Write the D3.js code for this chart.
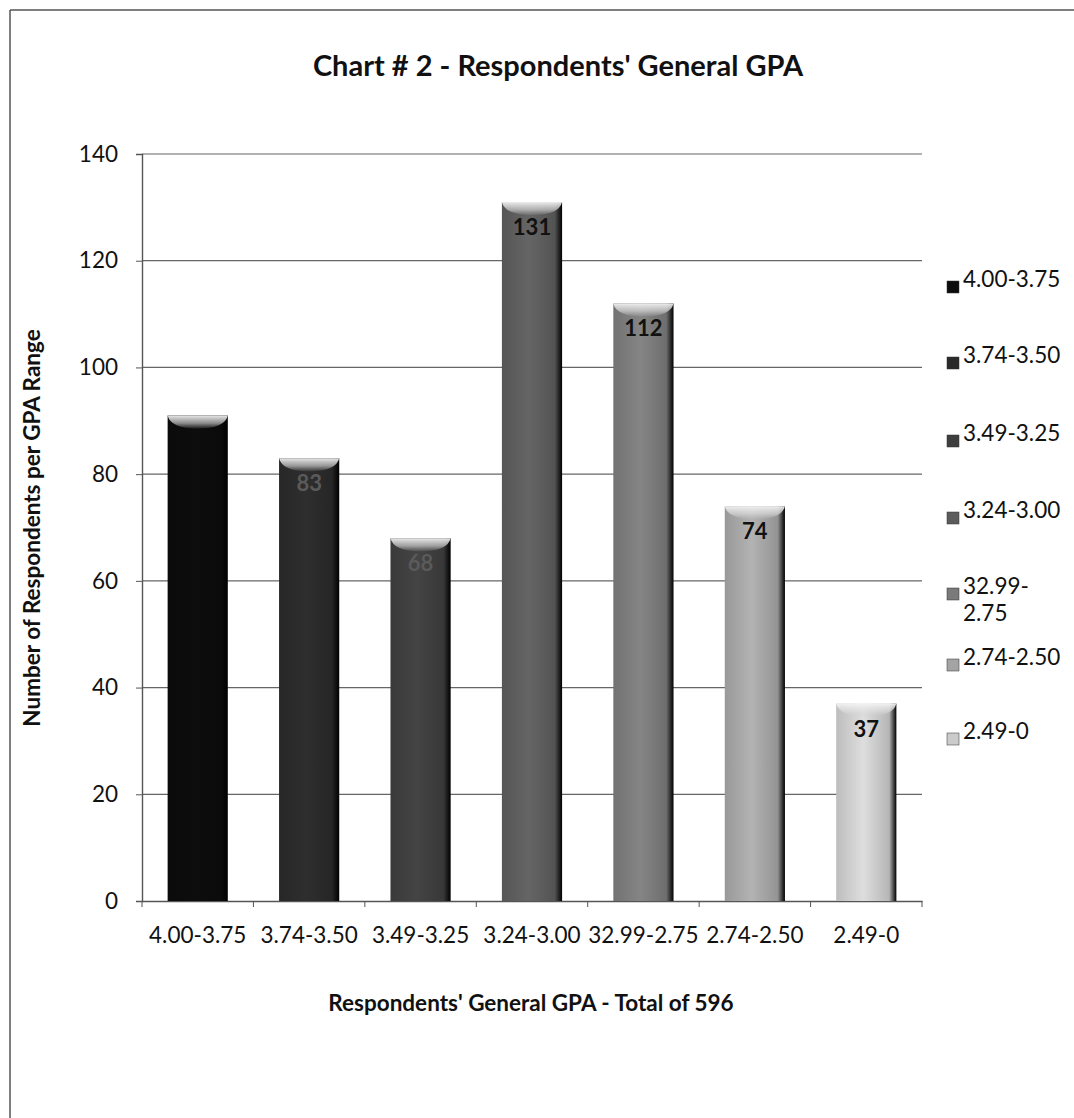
<!DOCTYPE html>
<html>
<head>
<meta charset="utf-8">
<script src="https://cdn.jsdelivr.net/npm/d3@7"></script>
<style>
  body { margin: 0; background: #fff; }
  svg { display: block; font-family: Lato, "Open Sans", sans-serif; }
  .axis path, .axis line { stroke: #555; }
  .axis text { font-size: 22.5px; fill: #111; font-family: Lato, "Open Sans", sans-serif; }
</style>
</head>
<body>
<div id="chart"></div>
<script>
// data
const categories = ['4.00-3.75', '3.74-3.50', '3.49-3.25', '3.24-3.00', '32.99-2.75', '2.74-2.50', '2.49-0'];
const counts = [91, 83, 68, 131, 112, 74, 37];
const legendLabels = [['4.00-3.75'], ['3.74-3.50'], ['3.49-3.25'], ['3.24-3.00'], ['32.99-', '2.75'], ['2.74-2.50'], ['2.49-0']];
const yTicks = [0, 20, 40, 60, 80, 100, 120, 140];
const barColors = ['#0c0c0c', '#2a2a2a', '#3e3e3e', '#5c5c5c', '#7a7a7a', '#a4a4a4', '#cbcbcb'];
const showLabel = [false, true, true, true, true, true, true];

const W = 1074, H = 1118;
const margin = { top: 154, left: 142, right: 152, bottom: 217 };
const width = W - margin.left - margin.right;   // 780
const height = H - margin.top - margin.bottom;  // 747

const svg = d3.select('#chart').append('svg').attr('width', W).attr('height', H);

// outer frame (only top and left visible in the reference)
svg.append('line').attr('x1', 10).attr('y1', 10).attr('x2', W).attr('y2', 10).attr('stroke', '#555').attr('stroke-width', 1.5);
svg.append('line').attr('x1', 10).attr('y1', 10).attr('x2', 10).attr('y2', H).attr('stroke', '#555').attr('stroke-width', 1.5);

const defs = svg.append('defs');
barColors.forEach((c, i) => {
  const base = d3.color(c);
  const g = defs.append('linearGradient').attr('id', 'bar' + i).attr('x1', 0).attr('x2', 1).attr('y1', 0).attr('y2', 0);
  g.append('stop').attr('offset', '0%').attr('stop-color', base.darker(0.2));
  g.append('stop').attr('offset', '45%').attr('stop-color', base.brighter(0.25));
  g.append('stop').attr('offset', '88%').attr('stop-color', base.darker(0.3));
  g.append('stop').attr('offset', '100%').attr('stop-color', '#000');
});
const cap = defs.append('linearGradient').attr('id', 'cap').attr('x1', 0).attr('x2', 0).attr('y1', 0).attr('y2', 1);
cap.append('stop').attr('offset', '0%').attr('stop-color', '#f4f4f4').attr('stop-opacity', 0.95);
cap.append('stop').attr('offset', '60%').attr('stop-color', '#e0e0e0').attr('stop-opacity', 0.6);
cap.append('stop').attr('offset', '100%').attr('stop-color', '#cccccc').attr('stop-opacity', 0.1);

const chartWrapper = svg.append('g').attr('transform', 'translate(' + margin.left + ',' + margin.top + ')');

const x = d3.scaleBand().domain(categories).range([0, width]).paddingInner(0.46).paddingOuter(0.23);
const y = d3.scaleLinear().domain([0, 140]).range([height, 0]);

// gridlines
chartWrapper.selectAll('line.grid').data(yTicks.slice(1)).enter().append('line')
  .attr('class', 'grid')
  .attr('x1', 0).attr('x2', width)
  .attr('y1', d => y(d)).attr('y2', d => y(d))
  .attr('stroke', '#666').attr('stroke-width', 1.2);

// y axis
const yAxis = d3.axisLeft(y).tickValues(yTicks).tickSize(6).tickPadding(18);
chartWrapper.append('g').attr('class', 'y axis').call(yAxis)
  .call(g => g.select('.domain').attr('stroke-width', 1.4));

// x axis with ticks between categories
const xAxis = d3.axisBottom(x).tickSize(0).tickPadding(26);
const xg = chartWrapper.append('g').attr('class', 'x axis').attr('transform', 'translate(0,' + height + ')').call(xAxis);
xg.select('.domain').attr('stroke-width', 1.4);
xg.selectAll('line.sep').data(d3.range(categories.length + 1)).enter().append('line')
  .attr('class', 'sep')
  .attr('x1', i => i * x.step()).attr('x2', i => i * x.step())
  .attr('y1', 0).attr('y2', 6).attr('stroke', '#555');

// bars
const barData = counts.map((v, i) => ({ cat: categories[i], value: v, i: i }));
const bars = chartWrapper.selectAll('g.bar').data(barData).enter().append('g').attr('class', 'bar');
bars.append('rect')
  .attr('x', d => x(d.cat))
  .attr('y', d => y(d.value))
  .attr('width', x.bandwidth())
  .attr('height', d => height - y(d.value))
  .attr('fill', d => 'url(#bar' + d.i + ')');
bars.append('path')
  .attr('d', d => {
    const x0 = x(d.cat), bw = x.bandwidth(), t = y(d.value);
    return 'M' + x0 + ',' + t + 'L' + (x0 + bw) + ',' + t + 'Q' + (x0 + bw - 3) + ',' + (t + 13) + ' ' + (x0 + bw / 2) + ',' + (t + 13) + 'Q' + (x0 + 3) + ',' + (t + 13) + ' ' + x0 + ',' + t + 'Z';
  })
  .attr('fill', 'url(#cap)');

// value labels inside top of bars
bars.filter(d => showLabel[d.i]).append('text')
  .attr('x', d => x(d.cat) + x.bandwidth() / 2)
  .attr('y', d => y(d.value) + 33)
  .attr('text-anchor', 'middle')
  .attr('font-size', 22).attr('font-weight', 'bold').attr('fill', d => d.i < 3 ? '#5a5a5a' : '#111')
  .text(d => d.value);

// legend
const legendY = [287, 363, 441, 518, 594, 665, 739];
const legend = svg.append('g').selectAll('g').data(legendLabels).enter().append('g')
  .attr('transform', (d, i) => 'translate(947,' + legendY[i] + ')');
legend.append('rect').attr('x', 0).attr('y', -6).attr('width', 12).attr('height', 12)
  .attr('fill', (d, i) => barColors[i]).attr('stroke', '#333').attr('stroke-width', 0.5);
legend.append('text')
  .attr('x', 16).attr('y', 0).attr('dy', '0.35em')
  .attr('font-size', 22.5).attr('fill', '#111')
  .selectAll('tspan').data(d => d).enter().append('tspan')
  .attr('x', 16).attr('dy', (d, j) => j === 0 ? 0 : 27)
  .text(d => d);

// titles
svg.append('text').attr('x', 558).attr('y', 76).attr('text-anchor', 'middle')
  .attr('font-size', 29).attr('font-weight', 'bold').attr('fill', '#111')
  .text("Chart # 2 - Respondents' General GPA");
svg.append('text').attr('x', 531).attr('y', 1011).attr('text-anchor', 'middle')
  .attr('font-size', 22.5).attr('font-weight', 'bold').attr('fill', '#111')
  .text("Respondents' General GPA - Total of 596");
svg.append('text').attr('transform', 'translate(40,528) rotate(-90)').attr('text-anchor', 'middle')
  .attr('font-size', 22.5).attr('font-weight', 'bold').attr('fill', '#111')
  .text('Number of Respondents per GPA Range');
</script>
</body>
</html>
